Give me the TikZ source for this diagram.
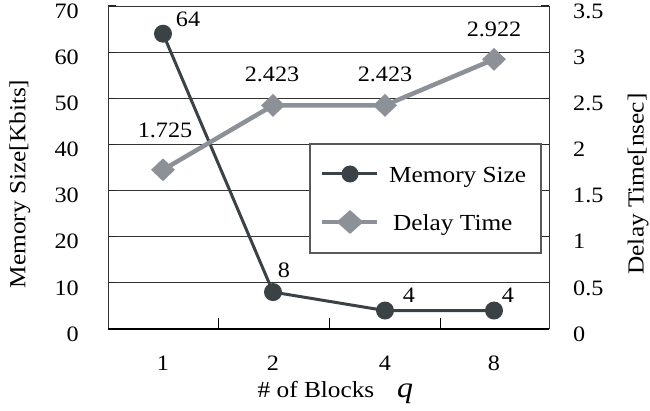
\documentclass[tikz,border=0pt]{standalone}
\usepackage{fontspec}
\setmainfont[FakeStretch=1.1]{Liberation Serif}
\usetikzlibrary{shapes.geometric}
\definecolor{memc}{HTML}{3A4246}
\definecolor{delc}{HTML}{8B9196}
\begin{document}
\begin{tikzpicture}[x=1pt,y=-1pt,
  grid/.style={draw=black!80, line width=0.9pt},
  tickmark/.style={draw=black!85, line width=1.2pt},
  memline/.style={draw=memc, line width=3pt},
  delline/.style={draw=delc, line width=4.5pt},
  memdot/.style={circle, fill=memc, inner sep=0pt, minimum size=18pt},
  deldia/.style={diamond, fill=delc, inner sep=0pt, minimum width=24pt, minimum height=23pt},
  lab/.style={font=\fontsize{22}{22}\selectfont, inner sep=0pt},
  ytl/.style={lab, anchor=east},
  ytr/.style={lab, anchor=west},
  dlab/.style={lab, anchor=base},
  ttl/.style={font=\fontsize{23}{23}\selectfont, inner sep=0pt},
  legbox/.style={draw=black!65, fill=white, line width=1.2pt, minimum width=231pt, minimum height=109pt, inner sep=0pt},
  legtxt/.style={font=\fontsize{23}{23}\selectfont, inner sep=0pt, anchor=base west}]
\useasboundingbox (0,0) rectangle (650,411);
% axes frame
\coordinate (bl) at (108,329);
\coordinate (br) at (549,329);
\coordinate (tl) at (108,6);
\coordinate (tr) at (549,6);
% gridlines
\foreach \v in {10,20,...,70}{
  \draw[grid] (108,{329-\v*4.614}) -- (549,{329-\v*4.614});
  \draw[tickmark] (108,{329-\v*4.614}) -- (116,{329-\v*4.614});
  \draw[tickmark] (541,{329-\v*4.614}) -- (549,{329-\v*4.614});
}
\draw[draw=black!80, line width=1pt] (bl) -- (tl);
\draw[draw=black!80, line width=1pt] (br) -- (tr);
\draw[draw=black, line width=2pt] (bl) -- (br);
\foreach \x in {218,329,440}{
  \draw[draw=black, line width=1pt] (\x,329) -- (\x,318);
}
% left tick labels
\foreach \v in {0,10,...,70}{
  \node[ytl] at (79,{334-\v*4.614}) {\v};
}
% right tick labels
\foreach \v/\t in {0/0,0.5/0.5,1/1,1.5/1.5,2/2,2.5/2.5,3/3,3.5/3.5}{
  \node[ytr] at (573,{334-\v*92.29}) {\t};
}
% x tick labels
\node[dlab] at (163,370) {1};
\node[dlab] at (273,370) {2};
\node[dlab] at (385,370) {4};
\node[dlab] at (494,370) {8};
% axis titles
\node[ttl, rotate=90] (ytitle) at (20,184) {Memory Size[Kbits]};
\node[ttl, rotate=90] (y2title) at (638,184) {Delay Time[nsec]};
\node[ttl, anchor=base] (xtitle) at (316,397) {\# of Blocks};
\node[font=\fontsize{29}{29}\selectfont\itshape, inner sep=0pt, anchor=base] (qv) at (405,397) {q};
% memory series
\coordinate (m1) at (163,{329-64*4.614});
\coordinate (m2) at (273,{329-8*4.614});
\coordinate (m3) at (385,{329-4*4.614});
\coordinate (m4) at (494,{329-4*4.614});
\draw[memline] (m1) -- (m2) -- (m3) -- (m4);
% delay series
\coordinate (d1) at (163,{329-1.725*92.29});
\coordinate (d2) at (273,{329-2.423*92.29});
\coordinate (d3) at (385,{329-2.423*92.29});
\coordinate (d4) at (494,{329-2.922*92.29});
\draw[delline] (d1) -- (d2) -- (d3) -- (d4);
\foreach \i in {1,2,3,4}{
  \node[memdot] (mm\i) at (m\i) {};
  \node[deldia] (dd\i) at (d\i) {};
}
% data labels
\node[dlab] (l64) at (188,27) {64};
\node[dlab] (l8) at (284,278) {8};
\node[dlab] (l4a) at (409,303) {4};
\node[dlab] (l4b) at (508,303) {4};
\node[dlab] (l1725) at (165,138) {1.725};
\node[dlab] (l2423a) at (272,82) {2.423};
\node[dlab] (l2423b) at (385,82) {2.423};
\node[dlab] (l2922) at (494,37) {2.922};
% legend
\node[legbox] (leg) at (425.5,198.5) {};
\coordinate (lma) at (322,174);
\coordinate (lmb) at (377,174);
\draw[memline] (lma) -- (lmb);
\node[memdot, minimum size=17pt] (lmd) at (350,174) {};
\node[legtxt] (lmt) at (389,183) {Memory Size};
\coordinate (lda) at (322,222);
\coordinate (ldb) at (377,222);
\draw[delline] (lda) -- (ldb);
\node[deldia, minimum width=27pt, minimum height=24pt] (ldd) at (350,222) {};
\node[legtxt] (ldt) at (393,231) {Delay Time};
\end{tikzpicture}
\end{document}
